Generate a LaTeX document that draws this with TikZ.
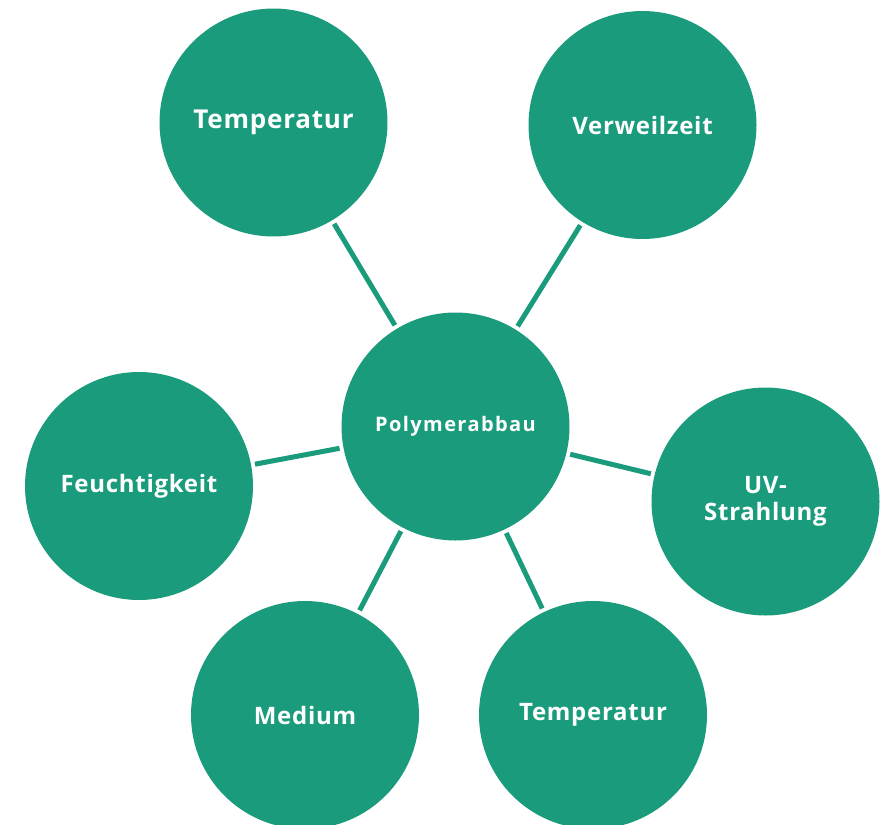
\documentclass[tikz,border=0pt]{standalone}
\usepackage{fontspec}
\setmainfont{Open Sans}
\newfontfamily\spacedA{Open Sans}[LetterSpace=3]
\newfontfamily\spacedB{Open Sans}[LetterSpace=7]
\definecolor{teal1}{HTML}{1A9C7C}
\begin{document}
\begin{tikzpicture}[x=1pt,y=-1pt,
  bubble/.style={circle,fill=teal1,minimum size=228pt,inner sep=0pt,outer sep=0pt,
    text=white,font=\spacedA\fontsize{24}{27}\selectfont\bfseries,align=center},
  bigbubble/.style={bubble,font=\spacedA\fontsize{26}{29}\selectfont\bfseries},
  hub/.style={bubble,font=\spacedB\fontsize{20}{24}\selectfont\bfseries},
  link/.style={draw=teal1,line width=5pt,shorten <=4pt,shorten >=4pt}]
\useasboundingbox (0,0) rectangle (884,825);
\node[hub] (c) at (455.5,426.5) {Polymerabbau};
\node[bigbubble] (t1) at (273.5,122.5) {Temperatur};
\node[bubble] (v) at (642.5,125) {Verweilzeit};
\node[bubble] (uv) at (765.5,501.5) {UV-\\Strahlung};
\node[bubble] (t2) at (593,715) {Temperatur};
\node[bubble] (m) at (305,715) {Medium};
\node[bubble] (f) at (139,486) {Feuchtigkeit};
\foreach \n in {t1,v,uv,t2,m,f} \draw[link] (\n) -- (c);
\end{tikzpicture}
\end{document}
